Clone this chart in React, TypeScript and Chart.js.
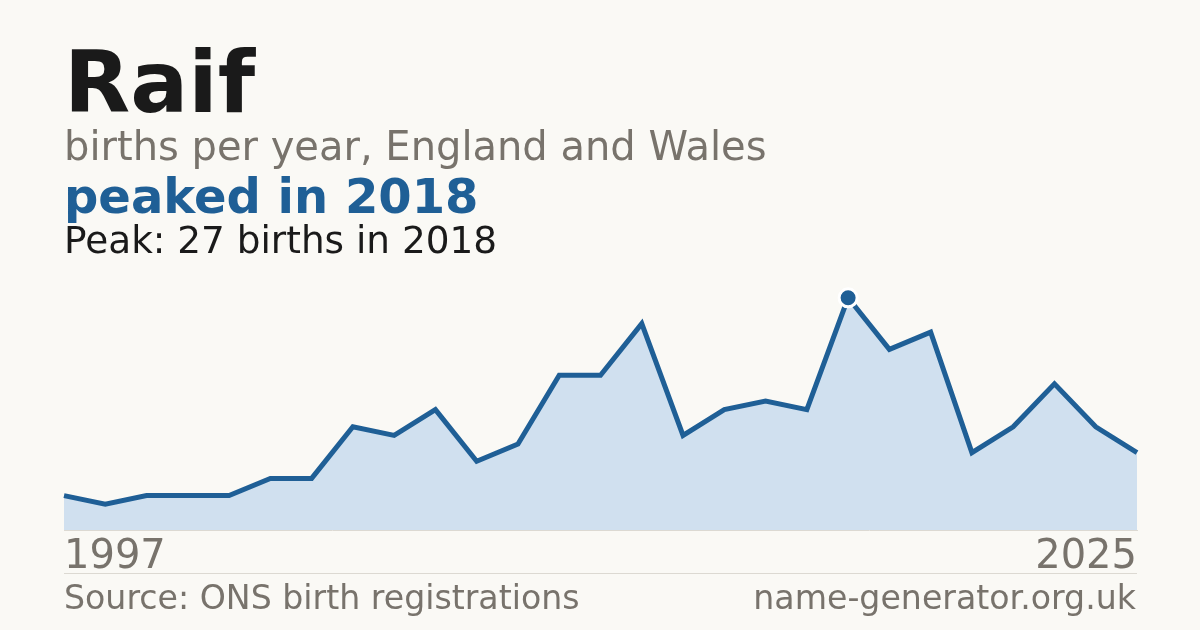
import { useEffect, useRef } from "react";
import { Chart, registerables, type ChartOptions } from "chart.js";

Chart.register(...registerables);

const years = [
    "1997", "1998", "2000", "2002", "2003", "2004", "2005", "2006", "2007",
    "2008", "2009", "2010", "2011", "2012", "2013", "2014", "2015", "2016",
    "2017", "2018", "2019", "2020", "2021", "2022", "2023", "2024", "2025",
];
const births = [4, 3, 4, 4, 4, 6, 6, 12, 11, 14, 8, 10, 18, 18, 24, 11, 14, 15, 14, 27, 21, 23, 9, 12, 17, 12, 9];
const peakYear = "2018";

const BG = "#faf9f5";
const BLUE = "#1f5f96";
const FILL = "#d0e0ef";
const GREY = "#78736c";
const INK = "#1a1a1a";
const FONT = "'DejaVu Sans', sans-serif";

export default function App() {
    const canvasRef = useRef<HTMLCanvasElement>(null);
    const chartRef = useRef<Chart | null>(null);

    useEffect(() => {
        if (!canvasRef.current) return;
        if (chartRef.current) chartRef.current.destroy();

        const peakIdx = years.indexOf(peakYear);
        const last = years.length - 1;

        const options: ChartOptions<"line"> = {
            responsive: true,
            maintainAspectRatio: false,
            animation: false,
            layout: { padding: { left: 64, right: 63, top: 272, bottom: 44 } },
            plugins: { legend: { display: false }, tooltip: { enabled: false } },
            scales: {
                x: {
                    grid: { display: false, drawTicks: false },
                    border: { display: true, color: "#dcd9d2", width: 1 },
                    ticks: {
                        autoSkip: false,
                        maxRotation: 0,
                        align: "inner",
                        padding: 4,
                        color: GREY,
                        font: { family: "DejaVu Sans", size: 40 },
                        callback: (_v, i) => (i === 0 || i === last ? years[i] : ""),
                    },
                },
                y: { display: false, min: 0, max: 30 },
            },
        };

        chartRef.current = new Chart(canvasRef.current, {
            type: "line",
            data: {
                labels: years,
                datasets: [
                    {
                        data: births,
                        fill: "origin",
                        tension: 0,
                        borderColor: BLUE,
                        borderWidth: 5,
                        backgroundColor: FILL,
                        pointRadius: births.map((_, i) => (i === peakIdx ? 9 : 0)),
                        pointBackgroundColor: BLUE,
                        pointBorderColor: "#ffffff",
                        pointBorderWidth: 3,
                    },
                ],
            },
            options,
        });

        return () => { chartRef.current?.destroy(); chartRef.current = null; };
    }, []);

    const text = (top: number, size: number, color: string, weight: number, s: string, right = false) => (
        <div style={{
            position: "absolute", top, [right ? "right" : "left"]: 64,
            fontFamily: FONT, fontSize: size, lineHeight: 1, color, fontWeight: weight, whiteSpace: "nowrap",
        }}>{s}</div>
    );

    return (
        <div style={{ position: "fixed", left: 0, top: 0, width: 1200, height: 630, background: BG, overflow: "hidden" }}>
            <div style={{ position: "absolute", left: 0, top: 0, width: 1200, height: 630 }}>
                <canvas ref={canvasRef} />
            </div>
            {text(39, 86, INK, 700, "Raif")}
            {text(126, 40, GREY, 400, "births per year, England and Wales")}
            {text(172, 48, BLUE, 700, "peaked in 2018")}
            {text(222, 37.4, INK, 400, "Peak: 27 births in 2018")}
            <div style={{ position: "absolute", left: 64, width: 1073, top: 573, borderTop: "1px solid #dcd9d2" }} />
            {text(581, 33.2, GREY, 400, "Source: ONS birth registrations")}
            {text(581, 33.2, GREY, 400, "name-generator.org.uk", true)}
        </div>
    );
}
